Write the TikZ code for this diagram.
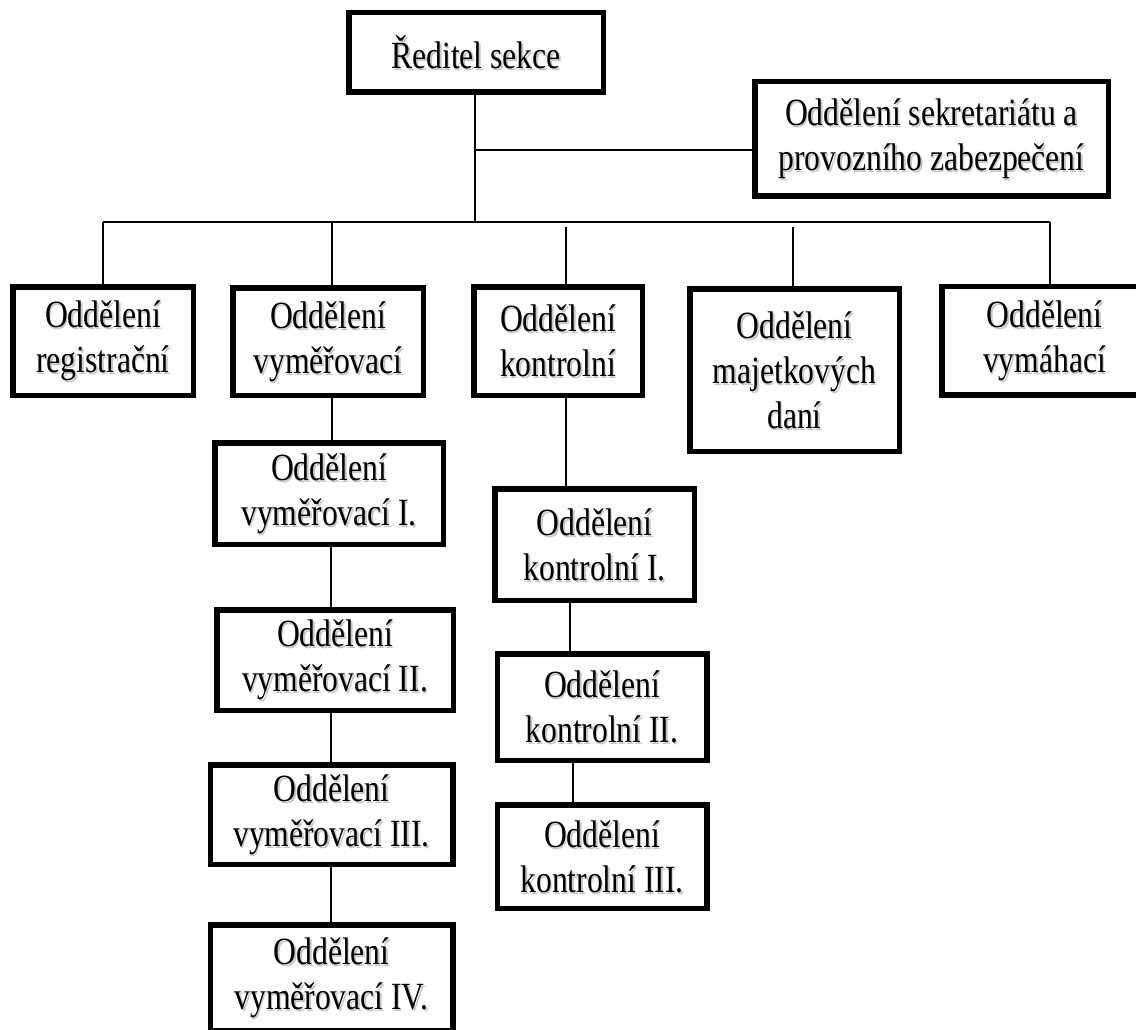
\documentclass[tikz,border=0pt]{standalone}
\usepackage{fontspec}
\setmainfont[FakeStretch=0.82]{Liberation Serif}
\newcommand\orgbox[5]{%
  \node[boxtext, text=black!22, shift={(1.6,2)}, minimum width=#3pt, minimum height=#4pt] at (#2) {#5};
  \node[boxtext, draw, line width=5.5pt, minimum width=#3pt, minimum height=#4pt] (#1) at (#2) {#5};}
\begin{document}
\begin{tikzpicture}[x=1pt,y=-1pt,
  boxtext/.style={inner sep=0pt, align=center,
    font=\fontsize{38.5}{45}\selectfont},
  conn/.style={line width=1.6pt}]
\useasboundingbox (0,0) rectangle (1136,1030);
\clip (0,0) rectangle (1136,1030);
\fill[white] (0,0) rectangle (1136,1030);
% boxes
\orgbox{dir}{476,52.5}{254.5}{79.5}{Ředitel sekce}
\orgbox{sekr}{931.5,139}{353.5}{114.5}{Oddělení sekretariátu a\\provozního zabezpečení}
\orgbox{reg}{103,341}{180.5}{108.5}{Oddělení\\registrační}
\orgbox{vym}{328,341.5}{190.5}{107.5}{Oddělení\\vyměřovací}
\orgbox{kon}{558,341}{168.5}{108.5}{Oddělení\\kontrolní}
\orgbox{maj}{794.5,370}{209.5}{162.5}{Oddělení\\majetkových\\daní}
\orgbox{vyh}{1044.5,340.5}{205.5}{108.5}{Oddělení\\vymáhací}
\orgbox{vym1}{329,493.5}{228.5}{101.5}{Oddělení\\vyměřovací I.}
\orgbox{vym2}{335,660}{236.5}{100.5}{Oddělení\\vyměřovací II.}
\orgbox{vym3}{331.5,814.5}{242.5}{99.5}{Oddělení\\vyměřovací III.}
\orgbox{vym4}{331.5,977.5}{242.5}{105.5}{Oddělení\\vyměřovací IV.}
\orgbox{kon1}{594.5,544.5}{199.5}{111.5}{Oddělení\\kontrolní I.}
\orgbox{kon2}{602,707}{209.5}{106.5}{Oddělení\\kontrolní II.}
\orgbox{kon3}{602,856.5}{209.5}{103.5}{Oddělení\\kontrolní III.}
% junctions
\coordinate (jS) at (475,150);
\coordinate (bL) at (103,222);
\coordinate (bR) at (1050,222);
\coordinate (b2) at (332,222);
\coordinate (b3) at (566,227);
\coordinate (b4) at (793,227);
\coordinate (cv) at (331,0);
\coordinate (c1) at (570,0);
\coordinate (c2) at (573,0);
% connectors
\draw[conn] (dir.south -| jS) -- (jS |- bL);
\draw[conn] (jS) -- (jS -| sekr.west);
\draw[conn] (bL) -- (bR);
\draw[conn] (bL) -- (bL |- reg.north);
\draw[conn] (b2) -- (b2 |- vym.north);
\draw[conn] (b3) -- (b3 |- kon.north);
\draw[conn] (b4) -- (b4 |- maj.north);
\draw[conn] (bR) -- (bR |- vyh.north);
\draw[conn] (b2 |- vym.south) -- (b2 |- vym1.north);
\draw[conn] (cv |- vym1.south) -- (cv |- vym2.north);
\draw[conn] (cv |- vym2.south) -- (cv |- vym3.north);
\draw[conn] (cv |- vym3.south) -- (cv |- vym4.north);
\draw[conn] (b3 |- kon.south) -- (b3 |- kon1.north);
\draw[conn] (c1 |- kon1.south) -- (c1 |- kon2.north);
\draw[conn] (c2 |- kon2.south) -- (c2 |- kon3.north);
\end{tikzpicture}
\end{document}
